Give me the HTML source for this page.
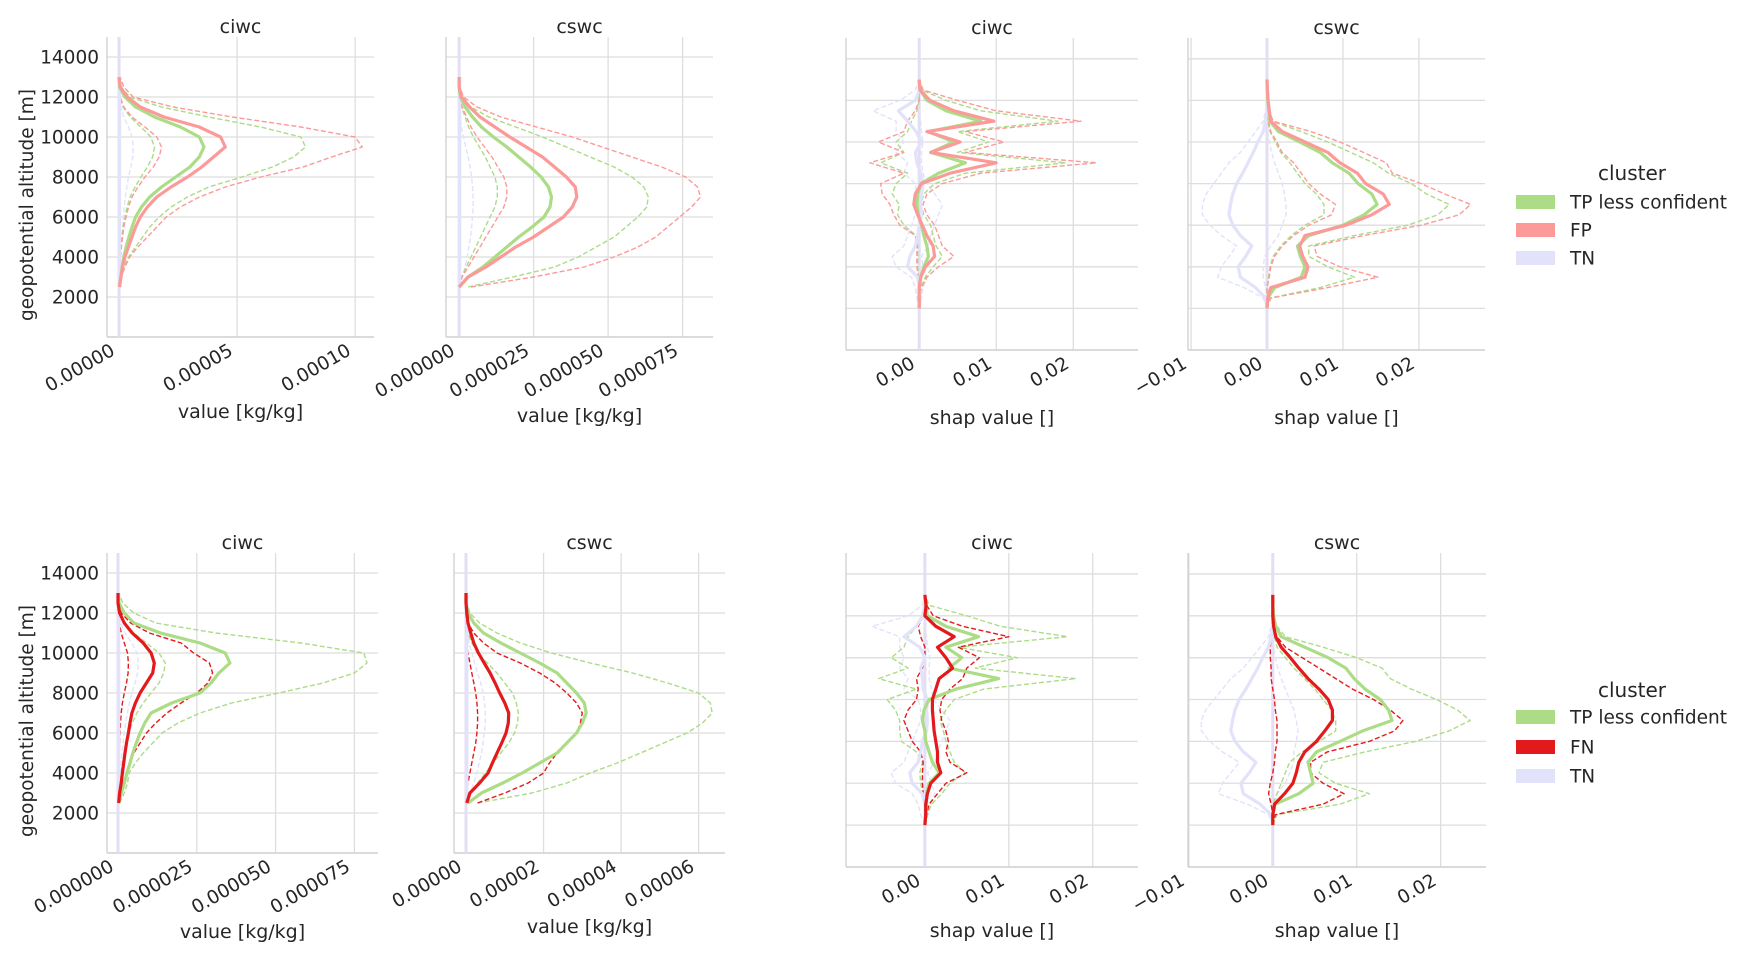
<!DOCTYPE html>
<html><head><meta charset="utf-8"><style>
body{margin:0;background:#fff;}
svg{display:block;font-family:"DejaVu Sans","Liberation Sans",sans-serif;}
</style></head><body>
<svg id="fig" width="1760" height="963" viewBox="0 0 1760 963"></svg>
<script>
// ---------- data ----------
const altValue = [2500,3000,3500,4000,4500,5000,5500,6000,6500,7000,7500,8000,8500,9000,9500,10000,10500,11000,11500,12000,12500,13000];
const altShap = [2000,2500,3000,3500,4000,4500,5000,5500,6000,6500,7000,7500,8000,8500,9000,9500,10000,10500,11000,11500,12000,12500,13000];
const yTicks = [2000,4000,6000,8000,10000,12000,14000];

// top row, value panels (units 1e-5 kg/kg)
const topCiwcTPMean = [0.02,0.08,0.13,0.2,0.3,0.42,0.55,0.7,0.95,1.3,1.8,2.4,3.0,3.4,3.6,3.4,2.6,1.5,0.7,0.25,0.03,0];
const topCiwcTPHi = [0,0.1,0.2,0.4,0.7,1.0,1.3,1.7,2.2,2.9,3.8,5.2,6.5,7.4,7.9,7.7,6.0,3.8,1.8,0.45,0.1,0];
const topCiwcTPLo = [0,0,0.02,0.04,0.08,0.12,0.17,0.25,0.34,0.47,0.68,0.93,1.2,1.42,1.5,1.35,0.93,0.47,0.17,0.04,0,0];
const topCiwcFPMean = [0.02,0.08,0.15,0.25,0.4,0.55,0.7,0.9,1.2,1.6,2.2,2.9,3.5,4.0,4.5,4.3,3.4,1.9,0.9,0.35,0.05,0];
const topCiwcFPHi = [0,0.1,0.25,0.45,0.8,1.2,1.6,2.0,2.6,3.4,4.5,6.0,7.8,9.0,10.3,10.0,7.7,4.8,2.3,0.6,0.2,0.05];
const topCiwcFPLo = [0,0,0.02,0.05,0.1,0.15,0.2,0.3,0.4,0.55,0.8,1.1,1.45,1.7,1.8,1.6,1.1,0.55,0.2,0.05,0,0];
const topCiwcTNMean = [0.02,0.02,0.02,0.02,0.02,0.02,0.02,0.02,0.02,0.02,0.02,0.02,0.02,0.02,0.02,0.02,0.02,0.02,0.02,0.02,0.02,0.02];
const topCiwcTNHi = [0,0.02,0.05,0.08,0.1,0.12,0.15,0.18,0.22,0.27,0.33,0.4,0.5,0.58,0.6,0.55,0.4,0.2,0.08,0.02,0,0];
const topCiwcTNLo = [0,0,0,0,0,0,0,0,0,0,0,0,0,0,0,0,0,0,0,0,0,0];

const topCswcTPMean = [0,0.3,0.8,1.2,1.6,2.0,2.45,2.85,3.05,3.1,3.0,2.75,2.4,2.0,1.6,1.15,0.75,0.45,0.2,0.05,0,0];
const topCswcTPHi = [0.3,1.8,3.2,4.0,4.6,5.2,5.6,6.0,6.3,6.35,6.2,5.8,5.2,4.4,3.6,2.8,1.9,1.0,0.4,0.1,0,0];
const topCswcTPLo = [0,0.08,0.24,0.4,0.56,0.72,0.88,1.04,1.2,1.28,1.28,1.2,1.04,0.88,0.68,0.48,0.32,0.2,0.08,0.02,0,0];
const topCswcFPMean = [0,0.3,0.9,1.4,1.9,2.5,3.0,3.5,3.8,3.95,3.9,3.6,3.2,2.8,2.25,1.7,1.2,0.7,0.35,0.08,0,0];
const topCswcFPHi = [0.4,2.5,4.2,5.2,6.0,6.6,7.0,7.4,7.8,8.1,8.0,7.6,6.8,5.8,4.8,3.8,2.6,1.4,0.6,0.15,0.02,0];
const topCswcFPLo = [0,0.1,0.3,0.5,0.7,0.9,1.1,1.3,1.5,1.6,1.6,1.5,1.3,1.1,0.85,0.6,0.4,0.25,0.1,0.02,0,0];
const topCswcTNMean = [0.02,0.02,0.02,0.02,0.02,0.02,0.02,0.02,0.02,0.02,0.02,0.02,0.02,0.02,0.02,0.02,0.02,0.02,0.02,0.02,0.02,0.02];
const topCswcTNHi = [0,0.1,0.2,0.27,0.33,0.38,0.42,0.45,0.47,0.47,0.45,0.42,0.37,0.3,0.22,0.15,0.08,0.03,0.01,0,0,0];
const topCswcTNLo = [0,0,0,0,0,0,0,0,0,0,0,0,0,0,0,0,0,0,0,0,0,0];

// bottom row, value panels (units 1e-5 kg/kg)
const botCiwcTPMean = [0.02,0.1,0.2,0.28,0.38,0.47,0.58,0.7,0.85,1.05,1.7,2.6,2.95,3.2,3.55,3.4,2.6,1.35,0.5,0.2,0.03,0];
const botCiwcTPHi = [0.05,0.2,0.3,0.35,0.55,0.8,1.1,1.4,1.9,2.6,3.6,5.1,6.5,7.5,7.9,7.8,5.8,3.1,1.2,0.5,0.15,0.02];
const botCiwcTPLo = [0,0.02,0.05,0.1,0.15,0.2,0.27,0.35,0.45,0.6,0.8,1.05,1.3,1.45,1.5,1.3,0.9,0.5,0.2,0.05,0,0];
const botCiwcFNMean = [0.02,0.05,0.1,0.14,0.18,0.22,0.27,0.33,0.38,0.44,0.55,0.7,0.9,1.1,1.15,1.05,0.8,0.45,0.2,0.05,0,0];
const botCiwcFNHi = [0.05,0.12,0.2,0.28,0.4,0.5,0.7,0.9,1.2,1.55,2.0,2.5,2.85,3.0,2.9,2.4,2.0,1.0,0.4,0.1,0,0];
const botCiwcFNLo = [0,0,0,0.02,0.03,0.04,0.05,0.06,0.08,0.1,0.14,0.2,0.27,0.32,0.33,0.3,0.2,0.1,0.04,0,0,0];
const botCiwcTNMean = [0.02,0.02,0.02,0.02,0.02,0.02,0.02,0.02,0.02,0.02,0.02,0.02,0.02,0.02,0.02,0.02,0.02,0.02,0.02,0.02,0.02,0.02];
const botCiwcTNHi = [0,0.02,0.05,0.08,0.1,0.13,0.16,0.2,0.24,0.3,0.36,0.44,0.54,0.62,0.65,0.6,0.44,0.22,0.08,0.02,0,0];
const botCiwcTNLo = [0,0,0,0,0,0,0,0,0,0,0,0,0,0,0,0,0,0,0,0,0,0];

const botCswcTPMean = [0.05,0.4,0.95,1.45,1.9,2.35,2.6,2.85,3.0,3.1,3.05,2.85,2.6,2.35,1.9,1.4,0.9,0.45,0.2,0.05,0,0];
const botCswcTPHi = [0.3,1.7,2.6,3.2,3.9,4.5,5.1,5.7,6.1,6.35,6.3,6.0,5.2,4.3,3.2,2.2,1.4,0.8,0.35,0.1,0.02,0];
const botCswcTPLo = [0,0.1,0.3,0.5,0.7,0.9,1.1,1.25,1.33,1.35,1.3,1.2,1.0,0.8,0.55,0.3,0.15,0.05,0.01,0,0,0];
const botCswcFNMean = [0.02,0.1,0.35,0.57,0.68,0.8,0.92,1.03,1.09,1.1,1.0,0.87,0.75,0.62,0.47,0.32,0.2,0.12,0.05,0.02,0,0];
const botCswcFNHi = [0.3,1.0,1.6,2.0,2.15,2.35,2.6,2.85,2.95,3.0,2.85,2.6,2.3,1.9,1.4,0.8,0.45,0.2,0.05,0,0,0];
const botCswcFNLo = [0,0,0.05,0.1,0.15,0.2,0.25,0.28,0.3,0.3,0.28,0.25,0.2,0.15,0.1,0.05,0.02,0,0,0,0,0];
const botCswcTNMean = [0.02,0.02,0.02,0.02,0.02,0.02,0.02,0.02,0.02,0.02,0.02,0.02,0.02,0.02,0.02,0.02,0.02,0.02,0.02,0.02,0.02,0.02];
const botCswcTNHi = [0,0.1,0.2,0.28,0.34,0.4,0.44,0.47,0.5,0.5,0.48,0.44,0.38,0.3,0.22,0.15,0.08,0.03,0.01,0,0,0];
const botCswcTNLo = [0,0,0,0,0,0,0,0,0,0,0,0,0,0,0,0,0,0,0,0,0,0];

// top row, shap panels (units 1e-3)
const topShapCiwcTPMean = [0,0,0,0.2,0.6,1.2,1.0,0.6,0.3,-0.1,-0.3,-0.2,0.2,2.5,6.0,1.5,4.5,1.2,8.0,3.5,1.0,0.1,0];
const topShapCiwcTPHi = [0,0,0.2,0.8,1.8,3.0,2.2,1.8,1.5,0.6,0.2,0.6,2.0,6.0,19,5.0,9.0,5.0,18,8.0,3.5,0.3,0];
const topShapCiwcTPLo = [0,0,0,-0.1,-0.2,-0.2,-0.2,-0.4,-2.0,-2.8,-2.6,-3.5,-3.0,-1.5,-5.0,-2.0,-3.0,-1.5,-1.0,-0.3,0,0,0];
const topShapCiwcFPMean = [0,0,0,0.2,0.8,2.0,1.8,1.0,0.4,-0.2,-0.7,-0.5,0.3,4.0,10.0,1.5,5.3,1.0,9.7,4.5,1.4,0.1,0];
const topShapCiwcFPHi = [0,0,0.3,1.0,2.5,4.5,3.0,2.5,2.0,1.0,0.5,1.0,3.0,8.0,23,6.0,11,6.0,21,10,5,0.5,0];
const topShapCiwcFPLo = [0,0,0,-0.1,-0.3,-0.3,-0.3,-0.5,-2.5,-3.3,-3.8,-4.8,-5,-2,-6.4,-2,-5.3,-2,-1.5,-0.5,0,0,0];
const topShapCiwcTNMean = [0,0.1,0,-0.2,-1.5,-1.2,-0.5,-0.2,0,0.3,0.2,0.3,0.5,0.2,-0.3,-0.5,0.3,-0.4,-1.5,-2.7,-0.5,0,0];
const topShapCiwcTNHi = [0,0.3,0.5,1.0,0.5,0.3,1.2,1.5,2.0,2.5,3.0,2.0,1.0,0.5,0.3,0.3,0.5,0.3,0.2,0,0,0,0];
const topShapCiwcTNLo = [0,-0.3,-0.5,-1.0,-3.0,-3.5,-2.0,-1.5,-1.0,-0.5,-0.3,-0.3,-0.5,-2.0,-1.5,-3.0,-2.0,-3.0,-3.0,-6,-2.5,-0.5,0];

const topShapCswcTPMean = [0,0.1,1.0,4.5,5.0,4.4,4.0,5.5,10.0,12.8,14.5,13.8,12.0,10.8,8.6,7.0,4.3,1.5,0.4,0.25,0.1,0.05,0];
const topShapCswcTPHi = [0,0.4,7.0,11.5,8.0,5.5,5.5,11.5,18.5,22.5,24,21,19,16,14,11,8,4.5,0.6,0.2,0.1,0,0];
const topShapCswcTPLo = [0,0,0,0.2,0.4,0.8,1.8,3.2,5.0,7.5,7.5,6.5,5.0,4.0,3.0,1.8,1.1,0.4,0.1,0.1,0,0,0];
const topShapCswcFPMean = [0,0.1,0.5,5.0,5.4,4.7,4.3,5.0,10.4,13.8,16.1,15.3,13.0,11.9,9.6,8.0,5.0,2.0,0.5,0.3,0.15,0.05,0];
const topShapCswcFPHi = [0,0.5,8.0,14.6,9.6,6.6,6.2,12.7,20.3,25.3,26.8,23.4,20.3,16.5,15.7,12.7,9.6,5.8,0.8,0.3,0.1,0,0];
const topShapCswcFPLo = [0,0,0,0.3,0.5,1.0,2.0,3.5,5.5,8.5,9.0,7.0,5.5,4.5,3.5,2.0,1.3,0.5,0.2,0.1,0,0,0];
const topShapCswcTNMean = [0,-0.2,-1.5,-3.5,-3.8,-2.8,-2.0,-3.5,-4.5,-5.0,-4.8,-4.5,-4.0,-3.2,-2.5,-1.8,-1.2,-0.5,-0.2,0,0,0,0];
const topShapCswcTNHi = [0,0,-0.2,-0.5,-0.5,-0.3,0.5,1.5,2.0,2.5,2.5,2.3,2.0,1.5,1.0,0.6,0.3,0.1,0,0,0,0,0];
const topShapCswcTNLo = [0,-0.5,-3,-6.5,-6,-5,-4,-6,-7.5,-8.5,-8.5,-8,-7,-6,-5,-3.5,-2.5,-1.5,-0.5,-0.2,0,0,0];

// bottom row, shap panels (units 1e-3)
const botShapCiwcTPMean = [0,0.1,0.2,0.2,0.5,1.7,0.9,0.5,0.1,0,-0.3,-0.1,0.5,3.7,8.8,2.9,4.4,2.5,6.4,2.5,0.3,0.1,0];
const botShapCiwcTPHi = [0,0.3,0.8,2.0,3.0,4.8,3.5,3.0,2.5,2.2,1.8,2.5,3.5,7,18,6,11,4,17,9,5,0.5,0];
const botShapCiwcTPLo = [0,0,0,-0.3,-0.5,-0.6,-0.3,-1.0,-2.8,-3.0,-3.0,-3.5,-4.5,-1.0,-5.5,-2.0,-4.0,-2.5,-2.0,-1.0,-0.3,0,0];
const botShapCiwcFNMean = [0,0.1,0.1,0.3,0.7,1.9,1.5,1.5,1.3,1.1,1.0,0.9,0.9,1.3,1.7,3.3,2.5,1.5,3.5,1.3,0,0.15,0];
const botShapCiwcFNHi = [0,0.2,0.5,1.5,2.5,5.0,3.0,2.5,2.8,2.5,2.0,1.8,2.0,3.0,4.5,5,6.5,4,10,4.5,1.0,0.2,0];
const botShapCiwcFNLo = [0,0,0,-0.2,-0.3,-0.3,-0.2,-0.5,-1.5,-2.0,-2.5,-2.0,-1.0,-0.8,-1.0,-0.3,0,0,-0.5,-0.8,-0.2,0,0];
const botShapCiwcTNMean = [0,0.1,0,-0.3,-1.5,-1.8,-0.8,-0.5,-0.3,0.2,0.3,0.2,0.3,-0.2,-0.3,-0.5,0,-0.6,-2.5,-1.0,-0.3,0,0];
const botShapCiwcTNHi = [0,0.4,0.5,1.2,0.8,0.3,1.2,1.5,2.0,2.5,3.0,2.0,1.0,0.8,0.5,0.5,0.6,0.3,0.2,0,0,0,0];
const botShapCiwcTNLo = [0,-0.5,-0.8,-1.5,-3.5,-4.0,-2.5,-2.0,-1.5,-1.0,-0.5,-0.5,-0.8,-2.5,-2.0,-3.0,-2.5,-3.0,-3.0,-6.3,-2.0,-0.3,0];

const botShapCswcTPMean = [0,0,0.3,3.1,4.8,4.5,4.2,5.2,8.0,10.7,14.2,13.8,12.8,11.0,9.7,8.7,6.6,3.8,1.0,0.35,0.1,0,0];
const botShapCswcTPHi = [0,0.5,8,11.5,7.5,5.5,6.0,11.0,17.0,21,23.5,22,19.5,16.5,14,13,10,6.0,1.5,0.5,0.1,0,0];
const botShapCswcTPLo = [0,0,0,0.5,1.0,1.5,2.0,3.5,5.5,7.5,7.5,7,6,5,3.8,2.5,1.5,0.5,0.2,0,0,0,0];
const botShapCswcFNMean = [0,0,0.2,1.4,2.4,2.8,3.1,3.8,5.2,6.2,7.1,7.1,6.6,5.5,4.2,3.1,2.1,1.0,0.35,0.1,0,0,0];
const botShapCswcFNHi = [0,0.3,6.0,8.5,6.0,4.5,4.5,6.5,11.5,14.5,15.5,14,12,9.5,7.5,5.5,3.5,1.5,0.5,0.1,0,0,0];
const botShapCswcFNLo = [0,0,-0.2,-0.5,-0.3,0,0.2,0.3,0.5,0.5,0.5,0.3,0.2,0,-0.2,-0.2,-0.3,-0.3,-0.2,0,0,0,0];
const botShapCswcTNMean = [0,-0.2,-1.5,-3.5,-3.8,-2.8,-2.0,-3.5,-4.5,-5.0,-4.8,-4.5,-4.0,-3.2,-2.5,-1.8,-1.2,-0.5,-0.2,0,0,0,0];
const botShapCswcTNHi = [0,0,0.3,0.5,1.5,2.0,2.5,2.5,2.8,3.0,2.8,2.5,2.0,1.5,1.0,0.6,0.3,0.1,0,0,0,0,0];
const botShapCswcTNLo = [0,-0.5,-3,-6.5,-6,-5,-4,-6,-7.5,-8.5,-8.5,-8,-7,-6,-5,-3.5,-2.5,-1.5,-0.5,-0.2,0,0,0];

// tick labels
const valTicksA = [0,5,10];
const valTickLabelsA = ["0.00000","0.00005","0.00010"];
const valTicksB = [0,2.5,5,7.5];
const valTickLabelsB = ["0.000000","0.000025","0.000050","0.000075"];
const valTicksC = [0,2,4,6];
const valTickLabelsC = ["0.00000","0.00002","0.00004","0.00006"];
const shapTicksCiwc = [0,10,20];
const shapTickLabelsCiwc = ["0.00","0.01","0.02"];
const shapTicksCswc = [-10,0,10,20];
const shapTickLabelsCswc = ["\u22120.01","0.00","0.01","0.02"];

// ---------- drawing ----------
const NS = "http://www.w3.org/2000/svg";
const svg = document.getElementById("fig");
const C = {TP:"#acdc86", FP:"#fb9a99", FN:"#e31a1c", TN:"#e2e2fb"};
const TXT = "#262626";

function mk(tag, attrs, parent){
  const e = document.createElementNS(NS, tag);
  for (const k in attrs) e.setAttribute(k, attrs[k]);
  (parent||svg).appendChild(e);
  return e;
}

function panel(p){
  const g = mk("g", {});
  
  
  const xs = v => p.x0 + (v - p.xmin) / (p.xmax - p.xmin) * (p.x1 - p.x0);
  const ys = a => p.y1 - a / 15000 * (p.y1 - p.y0);
  yTicks.forEach(t => {
    const l = mk("line", {x1:p.x0, x2:p.x1, y1:ys(t), y2:ys(t), stroke:"#dedede", "stroke-width":1.3}, g);
    
    
  });
  p.ticks.forEach((t,i) => {
    const l = mk("line", {x1:xs(t), x2:xs(t), y1:p.y0, y2:p.y1, stroke:"#dedede", "stroke-width":1.3}, g);
    
    
    const tx = mk("text", {x:0, y:0, "text-anchor":"end", "font-size":18.5, fill:TXT,
      transform:`translate(${xs(t)-3},${p.y1+17}) rotate(-30)`}, g);
    tx.textContent = p.tickLabels[i];
    
    
  });
  const sl = mk("line", {x1:p.x0, x2:p.x0, y1:p.y0, y2:p.y1, stroke:"#cfcfcf", "stroke-width":1.3}, g);
  
  
  const sb = mk("line", {x1:p.x0, x2:p.x1, y1:p.y1, y2:p.y1, stroke:"#cfcfcf", "stroke-width":1.5}, g);
  
  
  if (p.yLabels){
    yTicks.forEach(t => {
      const tx = mk("text", {x:p.x0-8, y:ys(t)+6.5, "text-anchor":"end", "font-size":18.5, fill:TXT}, g);
      tx.textContent = String(t);
      
      
    });
    const yl = mk("text", {x:0, y:0, "text-anchor":"middle", "font-size":18.5, fill:TXT,
      transform:`translate(33,${(p.y0+p.y1)/2+18}) rotate(-90)`}, g);
    yl.textContent = "geopotential altitude [m]";
    
    
  }
  const tt = mk("text", {x:(p.x0+p.x1)/2, y:p.y0-4, "text-anchor":"middle", "font-size":19, fill:TXT}, g);
  tt.textContent = p.title;
  
  
  const xl = mk("text", {x:(p.x0+p.x1)/2, y:p.xlabelY, "text-anchor":"middle", "font-size":19, fill:TXT}, g);
  xl.textContent = p.xlabel;
  
  
  // zero baseline (TN profile extends over the full altitude range)
  const zl = mk("line", {x1:xs(0), x2:xs(0), y1:p.y0, y2:p.y1, stroke:"#e4ddf4", "stroke-width":3}, g);
  
  
  p.series.forEach(s => {
    const pts = s.vals.map((v,i) => [xs(v), ys(p.alt[i])]);
    const attrs = {points: pts.map(q => q[0].toFixed(1)+","+q[1].toFixed(1)).join(" "),
      fill:"none", stroke:s.color, "stroke-width": s.dash ? 1.4 : 3.2, "stroke-linejoin":"round"};
    if (s.dash) attrs["stroke-dasharray"] = "5,2.5";
    const pl = mk("polyline", attrs, g);
    
    
  });
}

function ser(prefix, clusters, arrs){
  const out = [];
  clusters.forEach(c => {
    out.push({name:(prefix+'-'+c+'-upper').toLowerCase(), vals:arrs[c+'Hi'], color:C[c], dash:true});
    out.push({name:(prefix+'-'+c+'-lower').toLowerCase(), vals:arrs[c+'Lo'], color:C[c], dash:true});
  });
  clusters.forEach(c => {
    out.push({name:(prefix+'-'+c+'-mean').toLowerCase(), vals:arrs[c+'Mean'], color:C[c], dash:false});
  });
  return out;
}

panel({name:"top-ciwc-value-panel", x0:107, x1:374, y0:37, y1:337, xmin:-0.51, xmax:10.8,
  ticks:valTicksA, tickLabels:valTickLabelsA, yLabels:true, title:"ciwc", xlabel:"value [kg/kg]", xlabelY:418, alt:altValue,
  series:ser("top-ciwc",["TN","TP","FP"],{TPMean:topCiwcTPMean,TPHi:topCiwcTPHi,TPLo:topCiwcTPLo,FPMean:topCiwcFPMean,FPHi:topCiwcFPHi,FPLo:topCiwcFPLo,TNMean:topCiwcTNMean,TNHi:topCiwcTNHi,TNLo:topCiwcTNLo})});
panel({name:"top-cswc-value-panel", x0:446, x1:713, y0:37, y1:337, xmin:-0.44, xmax:8.52,
  ticks:valTicksB, tickLabels:valTickLabelsB, yLabels:false, title:"cswc", xlabel:"value [kg/kg]", xlabelY:422, alt:altValue,
  series:ser("top-cswc",["TN","TP","FP"],{TPMean:topCswcTPMean,TPHi:topCswcTPHi,TPLo:topCswcTPLo,FPMean:topCswcFPMean,FPHi:topCswcFPHi,FPLo:topCswcFPLo,TNMean:topCswcTNMean,TNHi:topCswcTNHi,TNLo:topCswcTNLo})});
panel({name:"top-ciwc-shap-panel", x0:846, x1:1138, y0:38, y1:350, xmin:-9.5, xmax:28.4,
  ticks:shapTicksCiwc, tickLabels:shapTickLabelsCiwc, yLabels:false, title:"ciwc", xlabel:"shap value []", xlabelY:424, alt:altShap,
  series:ser("top-shap-ciwc",["TN","TP","FP"],{TPMean:topShapCiwcTPMean,TPHi:topShapCiwcTPHi,TPLo:topShapCiwcTPLo,FPMean:topShapCiwcFPMean,FPHi:topShapCiwcFPHi,FPLo:topShapCiwcFPLo,TNMean:topShapCiwcTNMean,TNHi:topShapCiwcTNHi,TNLo:topShapCiwcTNLo})});
panel({name:"top-cswc-shap-panel", x0:1188, x1:1485, y0:38, y1:350, xmin:-10.4, xmax:28.7,
  ticks:shapTicksCswc, tickLabels:shapTickLabelsCswc, yLabels:false, title:"cswc", xlabel:"shap value []", xlabelY:424, alt:altShap,
  series:ser("top-shap-cswc",["TN","TP","FP"],{TPMean:topShapCswcTPMean,TPHi:topShapCswcTPHi,TPLo:topShapCswcTPLo,FPMean:topShapCswcFPMean,FPHi:topShapCswcFPHi,FPLo:topShapCswcFPLo,TNMean:topShapCswcTNMean,TNHi:topShapCswcTNHi,TNLo:topShapCswcTNLo})});

panel({name:"bottom-ciwc-value-panel", x0:107, x1:378, y0:553, y1:853, xmin:-0.35, xmax:8.25,
  ticks:valTicksB, tickLabels:valTickLabelsB, yLabels:true, title:"ciwc", xlabel:"value [kg/kg]", xlabelY:938, alt:altValue,
  series:ser("bottom-ciwc",["TN","TP","FN"],{TPMean:botCiwcTPMean,TPHi:botCiwcTPHi,TPLo:botCiwcTPLo,FNMean:botCiwcFNMean,FNHi:botCiwcFNHi,FNLo:botCiwcFNLo,TNMean:botCiwcTNMean,TNHi:botCiwcTNHi,TNLo:botCiwcTNLo})});
panel({name:"bottom-cswc-value-panel", x0:454, x1:725, y0:553, y1:853, xmin:-0.31, xmax:6.68,
  ticks:valTicksC, tickLabels:valTickLabelsC, yLabels:false, title:"cswc", xlabel:"value [kg/kg]", xlabelY:933, alt:altValue,
  series:ser("bottom-cswc",["TN","TP","FN"],{TPMean:botCswcTPMean,TPHi:botCswcTPHi,TPLo:botCswcTPLo,FNMean:botCswcFNMean,FNHi:botCswcFNHi,FNLo:botCswcFNLo,TNMean:botCswcTNMean,TNHi:botCswcTNHi,TNLo:botCswcTNLo})});
panel({name:"bottom-ciwc-shap-panel", x0:846, x1:1138, y0:553, y1:867, xmin:-9.4, xmax:25.4,
  ticks:shapTicksCiwc, tickLabels:shapTickLabelsCiwc, yLabels:false, title:"ciwc", xlabel:"shap value []", xlabelY:937, alt:altShap,
  series:ser("bottom-shap-ciwc",["TN","TP","FN"],{TPMean:botShapCiwcTPMean,TPHi:botShapCiwcTPHi,TPLo:botShapCiwcTPLo,FNMean:botShapCiwcFNMean,FNHi:botShapCiwcFNHi,FNLo:botShapCiwcFNLo,TNMean:botShapCiwcTNMean,TNHi:botShapCiwcTNHi,TNLo:botShapCiwcTNLo})});
panel({name:"bottom-cswc-shap-panel", x0:1188, x1:1486, y0:553, y1:867, xmin:-10.1, xmax:25.4,
  ticks:shapTicksCswc, tickLabels:shapTickLabelsCswc, yLabels:false, title:"cswc", xlabel:"shap value []", xlabelY:937, alt:altShap,
  series:ser("bottom-shap-cswc",["TN","TP","FN"],{TPMean:botShapCswcTPMean,TPHi:botShapCswcTPHi,TPLo:botShapCswcTPLo,FNMean:botShapCswcFNMean,FNHi:botShapCswcFNHi,FNLo:botShapCswcFNLo,TNMean:botShapCswcTNMean,TNHi:botShapCswcTNHi,TNLo:botShapCswcTNLo})});

// legends
const legendTop = ["TP less confident","FP","TN"];
const legendTopColors = [C.TP, C.FP, C.TN];
const legendBot = ["TP less confident","FN","TN"];
const legendBotColors = [C.TP, C.FN, C.TN];
function legend(name, titleY, rows, labels, colors){
  const g = mk("g", {});
  
  
  const t = mk("text", {x:1632, y:titleY+7, "text-anchor":"middle", "font-size":20, fill:TXT}, g);
  t.textContent = "cluster";
  
  
  labels.forEach((lab,i) => {
    const r = mk("rect", {x:1516, y:rows[i]-7, width:39, height:14, fill:colors[i]}, g);
    
    
    const tx = mk("text", {x:1570, y:rows[i]+6.5, "font-size":18.5, fill:TXT}, g);
    tx.textContent = lab;
    
    
  });
}
legend("legend-top", 173, [202,230,258], legendTop, legendTopColors);
legend("legend-bottom", 690, [717,747,776], legendBot, legendBotColors);
</script>
</body></html>
